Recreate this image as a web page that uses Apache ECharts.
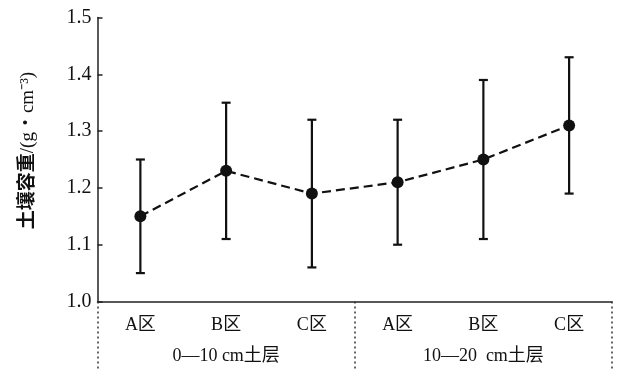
<!DOCTYPE html>
<html>
<head>
<meta charset="utf-8">
<script src="https://cdn.jsdelivr.net/npm/echarts@6/dist/echarts.min.js"></script>
<style>html,body{margin:0;padding:0;background:#fff}#main{width:629px;height:379px}</style>
</head>
<body>
<div id="main"></div>
<script>
// 数据
var zones = ['A区', 'B区', 'C区', 'A区', 'B区', 'C区'];
var layers = ['0—10 cm土层', '10—20  cm土层'];
var means = [1.15, 1.23, 1.19, 1.21, 1.25, 1.31];
var lows = [1.05, 1.11, 1.06, 1.10, 1.11, 1.19];
var highs = [1.25, 1.35, 1.32, 1.32, 1.39, 1.43];
var yTicks = [1.0, 1.1, 1.2, 1.3, 1.4, 1.5];

var serif = 'Liberation Serif, "Times New Roman", "Noto Sans CJK SC", serif';

var errData = [];
for (var i = 0; i < means.length; i++) {
  errData.push([i, lows[i], highs[i]]);
}

var chart = echarts.init(document.getElementById('main'));
var option = {
  animation: false,
  grid: { left: 97.5, right: 17, top: 17.5, bottom: 77.5 },
  xAxis: [
    {
      type: 'category',
      data: zones,
      boundaryGap: true,
      axisLine: { lineStyle: { color: '#222', width: 1.5 } },
      axisTick: { inside: true, length: 5, interval: 0, lineStyle: { color: '#222', width: 1.5 } },
      axisLabel: { color: '#111', fontSize: 18, fontFamily: serif, margin: 15, interval: 0 }
    },
    {
      type: 'category',
      data: layers,
      position: 'bottom',
      boundaryGap: true,
      axisLine: { show: false },
      axisTick: { show: true, length: 67, interval: 0, lineStyle: { color: '#333', width: 1.5, type: [2, 3] } },
      axisLabel: { color: '#111', fontSize: 18, fontFamily: serif, margin: 46, interval: 0 }
    }
  ],
  yAxis: {
    type: 'value',
    min: yTicks[0],
    max: yTicks[yTicks.length - 1],
    interval: 0.1,
    name: '{b|土壤容重}/(g・cm⁻³)',
    nameLocation: 'middle',
    nameGap: 60,
    nameTextStyle: {
      color: '#111', fontSize: 19, fontFamily: serif, padding: [0, 0, 0, 18],
      rich: { b: { fontSize: 19, fontFamily: serif, fontWeight: 'bold', color: '#111' } }
    },
    splitLine: { show: false },
    axisLine: { show: true, lineStyle: { color: '#222', width: 1.5 } },
    axisTick: { show: true, inside: true, length: 5, lineStyle: { color: '#222', width: 1.5 } },
    axisLabel: { color: '#111', fontSize: 20, fontFamily: serif, margin: 6, formatter: function (v) { return v.toFixed(1); } }
  },
  series: [
    {
      type: 'custom',
      data: errData,
      z: 3,
      renderItem: function (params, api) {
        var x = api.value(0);
        var lo = api.coord([x, api.value(1)]);
        var hi = api.coord([x, api.value(2)]);
        var w = 4.5;
        var st = { stroke: '#111', lineWidth: 2.2 };
        return {
          type: 'group',
          children: [
            { type: 'line', shape: { x1: lo[0], y1: lo[1], x2: hi[0], y2: hi[1] }, style: st },
            { type: 'line', shape: { x1: lo[0] - w, y1: lo[1], x2: lo[0] + w, y2: lo[1] }, style: st },
            { type: 'line', shape: { x1: hi[0] - w, y1: hi[1], x2: hi[0] + w, y2: hi[1] }, style: st }
          ]
        };
      }
    },
    {
      type: 'line',
      data: means,
      z: 4,
      symbol: 'circle',
      symbolSize: 12,
      itemStyle: { color: '#111' },
      lineStyle: { color: '#111', width: 2.2, type: [9, 5] }
    }
  ]
};
chart.setOption(option);
</script>
</body>
</html>
